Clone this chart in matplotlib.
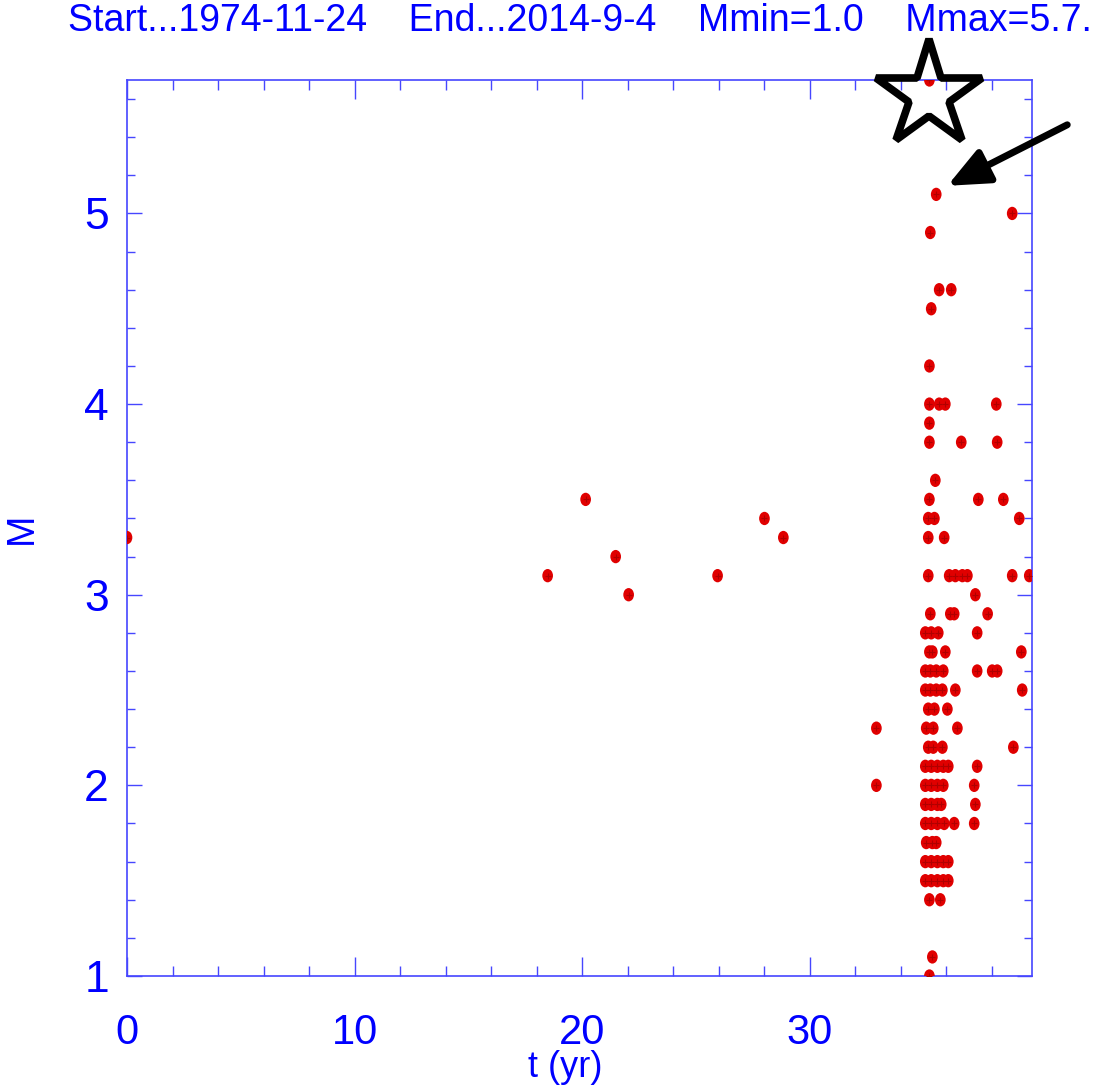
import numpy as np
import matplotlib
matplotlib.use("Agg")
import matplotlib.pyplot as plt
from matplotlib.path import Path
from matplotlib.ticker import MultipleLocator

plt.rcParams['font.family'] = ['Liberation Sans', 'DejaVu Sans']

# Catalogue summary
start_date = "1974-11-24"
end_date = "2014-9-4"
m_min = 1.0
m_max = 5.7
t_span = 39.78  # years between start and end

# Event times (years since start) and magnitudes
t_years = [
    0.0, 18.49, 20.16, 21.48, 22.05, 25.96, 28.02, 28.85, 32.94, 32.94,
    35.27,
    35.57,
    38.91,
    35.31,
    35.70, 36.23,
    35.35,
    35.27,
    35.27, 35.70, 35.97, 38.21,
    35.27,
    35.27, 36.67, 38.25,
    35.53,
    35.27, 37.42, 38.52,
    35.22, 35.49, 39.22,
    35.22, 35.92,
    35.22, 36.14, 36.41, 36.72, 36.94, 38.91, 39.66,
    37.29,
    35.31, 36.19, 36.36, 37.83,
    35.09, 35.35, 35.66, 37.37,
    35.27, 35.40, 35.97, 39.31,
    35.09, 35.31, 35.57, 35.88, 37.37, 38.03, 38.25,
    35.09, 35.31, 35.57, 35.84, 36.41, 39.35,
    35.22, 35.49, 36.06,
    35.13, 35.44, 36.50,
    35.22, 35.44, 35.84, 38.96,
    35.09, 35.35, 35.62, 35.88, 36.10, 37.37,
    35.09, 35.35, 35.62, 35.88, 37.24,
    35.09, 35.35, 35.62, 35.79, 37.29,
    35.09, 35.35, 35.62, 35.92, 36.36, 37.24,
    35.13, 35.40, 35.57,
    35.09, 35.35, 35.62, 35.88, 36.10,
    35.09, 35.35, 35.62, 35.88, 36.10,
    35.27, 35.75,
    35.40,
    35.27,
]
magnitudes = [
    3.3, 3.1, 3.5, 3.2, 3.0, 3.1, 3.4, 3.3, 2.3, 2.0,
    5.7,
    5.1,
    5.0,
    4.9,
    4.6, 4.6,
    4.5,
    4.2,
    4.0, 4.0, 4.0, 4.0,
    3.9,
    3.8, 3.8, 3.8,
    3.6,
    3.5, 3.5, 3.5,
    3.4, 3.4, 3.4,
    3.3, 3.3,
    3.1, 3.1, 3.1, 3.1, 3.1, 3.1, 3.1,
    3.0,
    2.9, 2.9, 2.9, 2.9,
    2.8, 2.8, 2.8, 2.8,
    2.7, 2.7, 2.7, 2.7,
    2.6, 2.6, 2.6, 2.6, 2.6, 2.6, 2.6,
    2.5, 2.5, 2.5, 2.5, 2.5, 2.5,
    2.4, 2.4, 2.4,
    2.3, 2.3, 2.3,
    2.2, 2.2, 2.2, 2.2,
    2.1, 2.1, 2.1, 2.1, 2.1, 2.1,
    2.0, 2.0, 2.0, 2.0, 2.0,
    1.9, 1.9, 1.9, 1.9, 1.9,
    1.8, 1.8, 1.8, 1.8, 1.8, 1.8,
    1.7, 1.7, 1.7,
    1.6, 1.6, 1.6, 1.6, 1.6,
    1.5, 1.5, 1.5, 1.5, 1.5,
    1.4, 1.4,
    1.1,
    1.0,
]

# Largest event (marked with a star) and the arrow pointing to its precursor
star_t, star_m = 35.27, 5.62
arrow_tip = (36.06, 5.145)
arrow_tail = (41.33, 5.465)

blue = '#0000ff'
axis_blue = '#4646ff'

W, H = 1096, 1085
fig = plt.figure(figsize=(W / 100, H / 100), dpi=100)
ax = fig.add_axes([127 / W, 109 / H, 905 / W, 896 / H])

# slightly tall elliptical symbol
circ = Path.unit_circle()
ell = Path(circ.vertices * np.array([0.8, 1.0]), circ.codes)

ax.scatter(t_years, magnitudes, marker=ell, s=9.6 ** 2, c='#e00000',
           edgecolors='none', zorder=3)
ax.scatter(t_years, magnitudes, marker='+', s=4.5 ** 2, c='#b00000',
           linewidths=0.8, zorder=4)

ax.plot(star_t, star_m, marker='*', ms=80, mfc='none', mec='black',
        mew=5.5, clip_on=False, zorder=6)
ax.annotate('', xy=arrow_tip, xytext=arrow_tail, xycoords='data',
            annotation_clip=False,
            arrowprops=dict(arrowstyle='-|>,head_length=1.25,head_width=0.55',
                            mutation_scale=20, lw=5, color='black',
                            shrinkA=0, shrinkB=0))

ax.set_xlim(0, t_span)
ax.set_ylim(m_min, m_max)

ax.xaxis.set_major_locator(MultipleLocator(10))
ax.xaxis.set_minor_locator(MultipleLocator(2))
ax.yaxis.set_major_locator(MultipleLocator(1))
ax.yaxis.set_minor_locator(MultipleLocator(0.2))

for s in ax.spines.values():
    s.set_color(axis_blue)
    s.set_linewidth(1.2)

ax.tick_params(axis='both', which='both', direction='in', top=True,
               right=True, color=axis_blue, width=1.0, labelcolor=blue)
ax.tick_params(axis='x', which='major', length=14, pad=27, labelsize=30)
ax.tick_params(axis='x', which='minor', length=7)
ax.tick_params(axis='y', which='major', length=11, pad=13, labelsize=32)
ax.tick_params(axis='y', which='minor', length=5.5)

# axis titles placed in figure pixels
fig.text(565 / W, 1 - 1077 / H, 't (yr)', color=blue, fontsize=26,
         ha='center', va='baseline')
fig.text(22 / W, 1 - 528 / H, 'M', color=blue, fontsize=27,
         ha='center', va='center', rotation=90)

title = (f"Start...{start_date}    End...{end_date}    "
         f"Mmin={m_min:.1f}    Mmax={m_max:.1f}.")
fig.text(580 / W, 1 - 21 / H, title, color=blue, fontsize=27,
         ha='center', va='center')

fig.savefig('out.png', dpi=100)
